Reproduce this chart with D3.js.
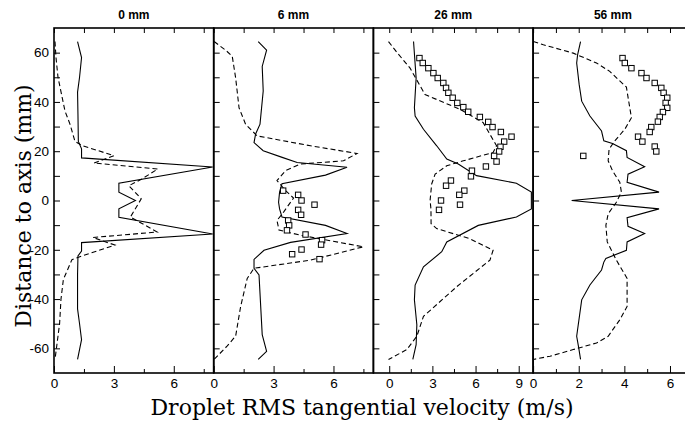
<!DOCTYPE html>
<html>
<head>
<meta charset="utf-8">
<script src="https://cdn.jsdelivr.net/npm/d3@7"></script>
<style>
  body { margin: 0; background: #fff; }
  .tick text { font-family: "Liberation Sans", Arial, sans-serif; font-size: 13.5px; fill: #000; }
</style>
</head>
<body>
<script>
// panel titles (distance from nozzle)
const titles = ["0 mm", "6 mm", "26 mm", "56 mm"];

// x domains and ticks for each panel
const xDomains = [[0, 8], [0, 8], [-1.1, 10], [0, 7]];
const xTicks = [
    [0, 1.5, 3, 4.5, 6, 7.5],
    [0, 1.5, 3, 4.5, 6, 7.5],
    [0, 1.5, 3, 4.5, 6, 7.5, 9],
    [0, 1, 2, 3, 4, 5, 6]
];
const xLabels = [[0, 3, 6], [0, 3, 6], [0, 3, 6, 9], [0, 2, 4, 6]];
const yTicks = [-60, -50, -40, -30, -20, -10, 0, 10, 20, 30, 40, 50, 60];
const yLabels = [-60, -40, -20, 0, 20, 40, 60];

// [distance to axis (mm), velocity (m/s)]
const solid0 = [[64.5,1.18],[58,1.38],[50,1.28],[44,1.18],[35,1.2],[24,1.22],[21,1.38],[17.3,1.38],[13.6,7.95],[7,3.25],[3.4,3.25],[0,4.08],[-3.4,3.25],[-6.8,3.25],[-13.6,7.95],[-17.1,1.38],[-20.5,1.38],[-22.5,1.2],[-30,1.18],[-44,1.18],[-50,1.28],[-56.5,1.38],[-64.5,1.18]];
const dash0 = [[64.5,0.05],[58,0.1],[50,0.2],[36.3,0.55],[31,0.8],[24,1.05],[22.3,1.4],[18.2,3.0],[15.2,2.0],[12.8,5.2],[8.7,4.4],[6,3.75],[0.7,4.37],[-6.7,3.83],[-12.8,5.17],[-15,1.95],[-18.1,3.05],[-22.5,1.4],[-24,0.9],[-32,0.47],[-40,0.35],[-50,0.28],[-64.5,0.05]];

const solid6 = [[64.5,2.23],[61,2.65],[54.4,2.43],[44.4,2.48],[31,2.32],[27,2.1],[23.5,2.02],[20.2,2.48],[17.5,3.43],[15.4,4.18],[13.5,6.68],[10.3,5.6],[6.8,3.42],[3.4,3.3],[-0.7,3.25],[-3.4,3.3],[-6.7,3.42],[-10.1,5.6],[-13.4,6.68],[-17,3.85],[-20.2,2.52],[-23.9,2.02],[-27.5,2.02],[-30.2,2.27],[-54.4,2.43],[-61.2,2.65],[-64.5,2.23]];
const dash6 = [[64.5,0.02],[61,0.6],[58.5,0.93],[49.7,1.1],[37.6,1.27],[30.9,1.6],[26.2,2.18],[22.2,4.85],[19.1,7.18],[16.1,6.5],[14.8,4.35],[12.1,3.6],[8.1,3.17],[4,3.6],[1,4.0],[-4.7,3.5],[-8.1,3.17],[-12,3.27],[-14.1,4.35],[-18.8,7.5],[-24.2,4.85],[-27.5,2.02],[-31.6,1.68],[-43,1.35],[-55,1.1],[-59,0.68],[-64.5,0.02]];
const exp6 = [[4.0,3.48],[2.3,4.23],[0,4.4],[-1.7,5.05],[-3.8,4.23],[-5.8,4.38],[-8.1,3.73],[-10.1,3.78],[-12.1,3.67],[-13.8,4.6],[-16.1,5.43],[-17.9,5.38],[-19.9,4.4],[-21.8,3.93],[-23.8,5.3]];

const solid26 = [[64.5,1.69],[49.7,1.87],[37.6,1.75],[34.3,1.8],[28.9,2.38],[22.2,3.3],[16.8,4.0],[14.8,4.8],[10.1,6.07],[7,8.84],[3.4,9.88],[-3.4,9.88],[-6.7,8.84],[-10.1,6.19],[-16.8,4.0],[-20.8,3.65],[-26.9,2.38],[-34.3,1.8],[-40.3,1.75],[-50.4,1.92],[-58.5,1.87],[-64.5,1.64]];
const dash26 = [[64.5,-0.05],[60,0.55],[53.7,1.45],[47,2.1],[43,2.49],[37,4.92],[31.6,6.53],[22.2,7.46],[19.5,7.22],[16.1,5.15],[14.1,4.0],[10.7,3.19],[6.7,2.95],[0,2.84],[-3.4,2.9],[-9.4,2.91],[-11.4,3.3],[-15.5,5.6],[-20.2,7.22],[-24.2,7.0],[-35,4.69],[-47,2.38],[-55.1,1.92],[-60.5,1.22],[-64.5,-0.05]];
const exp26 = [[57.8,2.1],[55.8,2.33],[53.7,2.72],[51.7,3.07],[49.7,3.37],[47.7,3.76],[45.7,3.95],[43.7,4.11],[41.7,4.41],[39.6,4.73],[37.9,5.15],[36,5.49],[33.9,6.3],[31.9,6.88],[29.8,7.18],[27.8,7.76],[25.9,8.5],[23.9,7.99],[21.8,7.73],[19.9,7.64],[18.1,7.29],[15.8,7.46],[13.8,6.72],[12.1,5.75],[9.8,5.68],[8.1,4.29],[6.0,3.95],[4.0,5.22],[2.3,4.87],[0,3.6],[-1.7,4.92],[-3.8,3.46]];

const solid56 = [[64.5,2.08],[59.1,1.95],[55.8,1.91],[47,2.02],[40.3,2.13],[34.3,2.49],[28.2,3.0],[24.2,3.1],[23.1,3.48],[20.2,4.09],[17.5,4.12],[13.7,4.89],[10.7,4.16],[7.4,4.12],[3.4,5.52],[0,1.69],[-3.4,5.52],[-7,4.12],[-10.5,4.16],[-13.4,4.89],[-16.8,4.12],[-20.2,4.09],[-23.5,3.19],[-25,3.1],[-28.2,3.0],[-34.3,2.49],[-40.3,2.13],[-55.1,1.91],[-59.8,2.0],[-64.5,2.08]];
const dash56 = [[64.5,0.01],[63.2,0.45],[59.8,1.76],[55.8,2.78],[52.4,3.36],[49.1,3.73],[46,4.09],[40.3,4.19],[33.6,4.31],[28.9,4.02],[24.2,3.58],[20.8,3.33],[16.1,3.29],[12.1,3.48],[7.4,3.8],[3.4,3.87],[-0.7,3.65],[-5.4,3.29],[-10.1,3.19],[-16.8,3.25],[-24.2,3.65],[-31.6,4.12],[-43,4.12],[-48.4,3.8],[-55.1,3.29],[-57.8,2.78],[-60.5,1.76],[-63.2,0.74],[-64.5,0.01]];
const exp56 = [[57.8,3.92],[55.8,4.02],[53.7,4.31],[51.7,4.75],[49.7,4.97],[47.7,5.33],[45.7,5.62],[43.7,5.72],[41.7,5.88],[39.6,5.81],[37.6,5.88],[35.9,5.69],[33.9,5.55],[32,5.47],[29.8,5.18],[27.8,5.11],[25.9,4.6],[23.9,4.79],[21.9,5.33],[19.9,5.4],[18.1,2.2]];

const solids = [solid0, solid6, solid26, solid56];
const dashes = [dash0, dash6, dash26, dash56];
const exps = [[], exp6, exp26, exp56];

const width = 685;
const height = 424;
const plotLeft = 54;
const plotTop = 28;
const plotBottom = 373;
const panelW = 159.7;

const svg = d3.select("body").append("svg")
    .attr("width", width)
    .attr("height", height);

const y = d3.scaleLinear().domain([-70, 70]).range([plotBottom, plotTop]);

for (let p = 0; p < 4; p++) {
    const x0 = plotLeft + p * panelW;
    const x = d3.scaleLinear().domain(xDomains[p]).range([x0, x0 + panelW]);
    const g = svg.append("g");

    // bottom axis, ticks pointing in
    const bAxis = g.append("g")
        .attr("transform", `translate(0,${plotBottom})`)
        .call(d3.axisBottom(x).tickValues(xTicks[p]).tickSize(-7).tickPadding(5)
            .tickFormat(d => xLabels[p].includes(d) ? d : ""));
    bAxis.selectAll(".tick line")
        .attr("y2", d => xLabels[p].includes(d) ? -7 : -4);

    // top axis
    g.append("g")
        .attr("transform", `translate(0,${plotTop})`)
        .call(d3.axisTop(x).tickValues(xTicks[p]).tickSize(-5).tickFormat(""));

    // left axis
    g.append("g")
        .attr("transform", `translate(${x0},0)`)
        .call(d3.axisLeft(y).tickValues(yTicks).tickSize(-6).tickPadding(5)
            .tickFormat(d => p === 0 && yLabels.includes(d) ? d : ""));

    g.selectAll(".domain").remove();
    g.selectAll(".tick line").attr("stroke", "#000").attr("stroke-width", 1);

    // frame
    g.append("rect")
        .attr("x", x0).attr("y", plotTop)
        .attr("width", panelW).attr("height", plotBottom - plotTop)
        .attr("fill", "none").attr("stroke", "#000").attr("stroke-width", 1.6);

    const clipId = "clip" + p;
    svg.append("clipPath").attr("id", clipId)
        .append("rect").attr("x", x0).attr("y", plotTop)
        .attr("width", panelW).attr("height", plotBottom - plotTop);

    const line = d3.line().x(d => x(d[1])).y(d => y(d[0]));

    g.append("path")
        .datum(solids[p])
        .attr("d", line)
        .attr("fill", "none")
        .attr("stroke", "#000")
        .attr("stroke-width", 1.1)
        .attr("clip-path", `url(#${clipId})`);

    g.append("path")
        .datum(dashes[p])
        .attr("d", line)
        .attr("fill", "none")
        .attr("stroke", "#000")
        .attr("stroke-width", 1.1)
        .attr("stroke-dasharray", "5,3")
        .attr("clip-path", `url(#${clipId})`);

    g.selectAll(".sq")
        .data(exps[p])
        .enter().append("rect")
        .attr("x", d => x(d[1]) - 2.7)
        .attr("y", d => y(d[0]) - 2.7)
        .attr("width", 5.4)
        .attr("height", 5.4)
        .attr("fill", "#fff")
        .attr("stroke", "#000")
        .attr("stroke-width", 1);

    // title
    svg.append("text")
        .attr("x", x0 + panelW / 2)
        .attr("y", 19)
        .attr("text-anchor", "middle")
        .attr("font-family", "Liberation Sans, Arial, sans-serif")
        .attr("font-weight", "bold")
        .attr("font-size", 12)
        .text(titles[p]);
}

// axis titles
svg.append("text")
    .attr("transform", `translate(31,206) rotate(-90)`)
    .attr("text-anchor", "middle")
    .attr("font-family", "DejaVu Serif, serif")
    .attr("font-size", 22)
    .text("Distance to axis (mm)");

svg.append("text")
    .attr("x", 362)
    .attr("y", 415)
    .attr("text-anchor", "middle")
    .attr("font-family", "DejaVu Serif, serif")
    .attr("font-size", 22)
    .text("Droplet RMS tangential velocity (m/s)");
</script>
</body>
</html>
